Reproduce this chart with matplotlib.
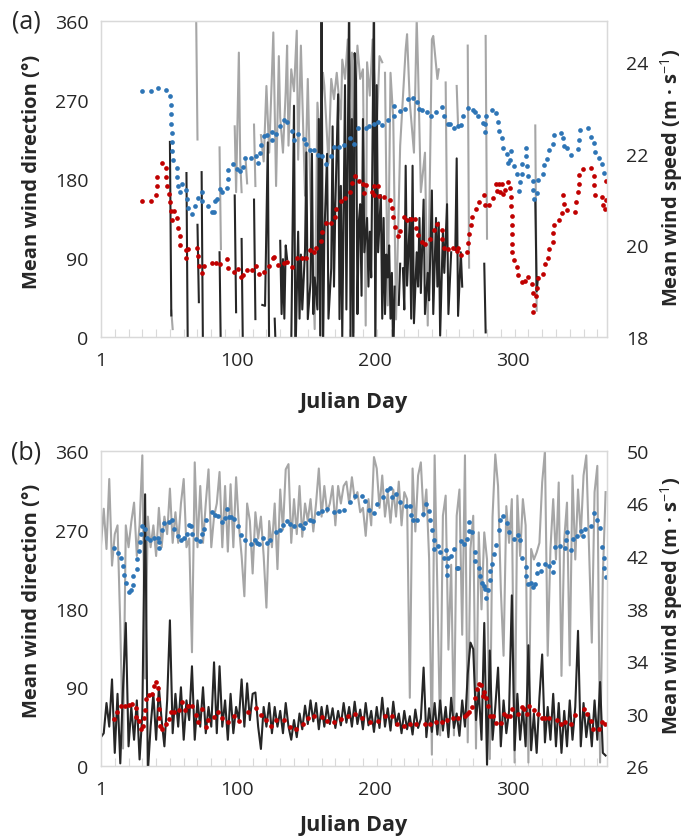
import numpy as np
import matplotlib.pyplot as plt

plt.rcParams['font.family'] = ['Open Sans', 'DejaVu Sans']
plt.rcParams['mathtext.fontset'] = 'custom'
plt.rcParams['mathtext.rm'] = 'Open Sans'
plt.rcParams['mathtext.bf'] = 'Open Sans:bold'

nan = np.nan

# ---------------- panel (a) ----------------
# daily wind direction (deg), gaps = missing days
a_gray_day = [52, 53, 54, 70, 71, 72, 87, 88, 89, 98, 99, 101, 102, 103, 104, 106, 107, 108,
              112, 113, 114, 117, 119, 121, 123, 125, 126, 128, 130, 131, 133, 135, 136, 137,
              139, 141, 143, 144, 146, 149, 151, 153, 156, 158, 160, 162, 163, 166, 168, 170,
              172, 175, 176, 178, 180, 181, 183, 184, 185, 187, 189, 191, 193, 194, 196, 198,
              201, 203, 205, 206, 207, 209, 211, 213, 215, 218, 222, 223, 225, 228, 230, 231,
              233, 236, 238, 241, 242, 245, 246, 247, 251, 252, 253, 259, 260, 261, 267, 268,
              269, 280, 281, 282, 316, 317, 318]
a_gray_dir = [30, 9, nan, 370, 225, nan, 216, 100, nan, 240, 165, 324, 200, 165, nan, 200, 175, nan,
              242, 172, nan, 230, 200, 286, 210, 300, 347, 172, 320, 250, 210, 280, 332, 218,
              305, 280, 349, 202, 332, 161, 294, 157, 9, 267, 218, 301, 286, 198, 294, 271,
              301, 248, 316, 294, 339, 271, 324, 5, 250, 332, 294, 305, 13, 313, 275, 339,
              237, 320, 313, nan, 301, 36, 301, 248, 20, 218, 328, 345, 267, 210, 362, 305,
              165, 210, 13, 339, 343, 294, 305, nan, 290, 130, nan, 286, 240, nan, 332, 79,
              nan, 343, 112, nan, 241, 30, nan]

# daily wind speed (m/s)
a_black_day = [51, 52, 53, 63, 64, 65, 71, 72, 73, 74, 75, 76, 87, 88, 89, 98, 99, 100,
               103, 104, 105, 112, 113, 114, 118, 120, 122, 123, 125, 127, 128, 129,
               131, 132, 133, 134, 135, 136, 137, 139, 141, 142, 144, 145, 146, 147, 149, 150,
               151, 153, 154, 155, 156, 158, 159, 160, 161, 162, 163, 165, 166, 168, 169, 170,
               171, 173, 174, 175, 176, 178, 179, 181, 182, 183, 184, 185, 186, 187, 188, 189,
               190, 191, 192, 194, 195, 196, 197, 199, 200, 201, 202, 204, 205, 206, 207, 208,
               209, 210, 211, 212, 213, 214, 215, 217, 218, 219, 220, 221, 222, 223, 225, 226,
               227, 228, 230, 231, 232, 233, 235, 236, 238, 239, 241, 242, 244, 245, 246, 247,
               249, 250, 252, 253, 255, 256, 258, 259, 260, 262, 263, 264, 279, 280, 281,
               316, 317, 318, 319]
a_black_spd = [22.26, 18.47, nan, 21.58, 17.5, nan, 20.45, 18.76, nan, 21.6, 17.5, nan, 19.85, 17.5, nan,
               21.09, 18.54, nan, 20.14, 17.5, nan, 21.0, 18.39, nan, 18.7, 18.68, 22.25, 17.5, nan,
               18.4, 17.5, nan, 20.1, 18.5, 19.7, 18.4, 20.0, 19.7, nan, 17.8, 23.05, 17.5, 20.3,
               18.4, 19.8, 18.6, 19.9, 22.03, 18.39, 19.2, 22.0, 18.5, 19.3, 18.6, 22.76, 18.03,
               25.5, 17.5, 20.2, 22.0, 18.4, 19.5, 22.6, 19.1, 20.9, 23.3, 18.39, 21.3, 18.0, 23.5,
               18.6, 25.5, 18.0, 22.76, 17.5, 24.2, 23.6, 18.5, 20.5, 20.9, 18.9, 22.76, 19.85,
               20.6, 19.1, 20.3, 19.3, 25.5, 17.5, 23.5, 19.85, 21.1, 18.4, 20.6, 18.5, 19.8,
               19.3, 20.0, 18.4, 19.4, 17.5, 19.1, nan, 18.7, 19.6, nan, 19.5, 18.6, 21.74, 19.12,
               20.6, 18.4, 21.74, 18.3, 19.85, 19.1, 20.6, 18.96, 21.0, 18.5, 19.4, 18.8, 21.2,
               18.5, 20.6, 19.1, 20.5, 18.03, 20.3, 19.4, 20.9, 18.5, 19.85, nan, 19.9, 21.9,
               18.46, 19.85, 19.1, nan, 19.6, 18.1, nan, 21.0, 19.0, 19.3, nan]

# moving average of direction (blue dots)
a_blue_day = [30.6, 37.4, 42.5, 48.3, 51.2, 51.7, 51.7, 51.9, 52.2, 52.2, 52.7, 53.2, 56.1, 56.1,
              56.6, 59.5, 58.0, 62.4, 63.3, 63.8, 66.7, 69.2, 71.1, 74.5, 74.5, 78.4, 81.3, 82.8,
              83.7, 85.2, 87.1, 89.1, 92.5, 93.4, 93.4,
              96.6, 99.5, 101.9, 104.3, 105.3, 109.7, 113.1, 115.0, 116.0, 117.0, 118.9, 121.3,
              124.7, 125.2, 127.6, 130.5, 133.5, 135.9, 139.3, 140.7, 143.7, 148.0, 149.5, 152.9,
              155.3, 158.2, 161.6, 164.5, 168.0, 169.9, 173.7, 177.1, 181.5, 184.4,
              187.5, 193.4, 195.3, 199.2, 201.6, 205.0, 209.4, 213.3, 213.3, 217.6, 221.5, 223.4,
              227.3, 230.2, 231.7, 234.1, 237.5, 240.4, 244.3, 248.2, 249.6, 252.6, 254.5, 257.4,
              259.8, 261.8, 263.7, 267.1, 270.5, 272.4, 274.4,
              278.1, 280.0, 279.5, 279.5, 284.4, 287.8, 288.7, 289.7, 292.1, 292.6, 295.5, 298.4,
              296.5, 298.0, 300.4, 302.8, 304.7, 304.3, 306.2, 306.7, 309.1, 309.1, 310.1, 310.6,
              314.0, 314.4, 315.4, 317.4, 318.3, 321.7, 322.2, 324.6, 325.6, 329.0, 329.5, 334.8,
              335.8, 336.8, 339.2, 342.1, 347.0, 347.4, 348.4, 354.2, 356.2, 358.6, 359.6, 362.5,
              364.4, 365.9]
a_blue_dir = [279.8, 279.8, 283.6, 281.7, 274.9, 264.2, 253.6, 243.0, 232.3, 222.5, 211.8, 201.2,
              192.9, 182.2, 172.3, 174.6, 165.5, 167.8, 157.2, 146.5, 140.5, 149.6, 158.7, 165.5,
              154.9, 149.6, 142.8, 142.8, 154.9, 157.2, 168.6, 164.8, 169.3, 180.0, 190.6,
              196.6, 191.3, 189.0, 193.6, 203.5, 203.5, 205.8, 198.2, 209.6, 218.7, 228.6, 230.1,
              224.0, 233.9, 231.6, 240.7, 247.5, 245.3, 234.6, 224.7, 230.8, 225.5, 219.4, 212.6,
              212.6, 207.3, 205.8, 196.6, 206.5, 216.4, 216.4, 218.7, 227.0, 219.4,
              238.4, 237.7, 240.7, 242.2, 244.5, 241.5, 247.5, 252.1, 262.7, 257.4, 259.7, 271.1,
              272.6, 268.0, 259.7, 258.2, 255.9, 251.3, 255.9, 262.0, 251.3, 243.0, 242.2, 238.4,
              239.9, 241.5, 252.1, 260.4, 258.9, 255.9, 251.3,
              243.7, 252.1, 242.2, 233.9, 258.9, 255.1, 245.3, 234.6, 226.3, 215.6, 208.8, 211.8,
              198.2, 202.0, 194.4, 186.0, 176.2, 166.3, 186.0, 196.6, 205.8, 215.6, 195.1, 183.7,
              177.7, 167.0, 157.2, 164.0, 178.4, 185.3, 195.9, 202.7, 213.4, 219.4, 230.1, 232.3,
              226.3, 218.0, 214.9, 207.3, 214.1, 224.7, 235.4, 237.7, 227.8, 221.0, 210.3, 204.2,
              197.4, 186.8]

# moving average of speed (red dots)
a_red_day = [30.6, 37.4, 41.0, 44.9, 41.5, 41.5, 47.8, 48.3, 48.8, 50.2, 51.2, 51.7, 54.1, 52.2,
             56.1, 56.6, 58.0, 58.5, 62.4, 64.3, 62.9, 70.6, 71.1, 72.1, 74.0, 76.0, 81.8, 84.7,
             87.1, 92.5, 93.4,
             97.6, 100.5, 102.4, 104.3, 106.8, 110.2, 113.1, 115.5, 118.9, 122.8, 125.7, 126.7,
             129.6, 133.5, 135.9, 139.8, 143.2, 146.6, 149.5, 152.4, 155.3, 157.2, 160.6, 161.1,
             164.0, 168.0, 170.8, 171.8, 175.2, 178.1, 181.5, 183.0, 185.4,
             188.0, 191.4, 192.9, 191.9, 197.7, 199.2, 201.6, 198.7, 203.0, 206.5, 210.3, 211.8,
             212.8, 214.2, 216.2, 218.1, 221.0, 223.0, 225.9, 228.8, 229.8, 230.7, 233.6, 236.1,
             239.4, 242.4, 244.8, 248.2, 248.7, 250.1, 253.0, 256.0, 258.9, 259.8, 261.8, 266.6,
             267.1, 267.6, 269.1, 270.0, 273.0, 275.4,
             278.5, 279.5, 282.4, 285.3, 288.2, 287.3, 289.7, 291.6, 290.7, 292.6, 294.1, 296.0,
             298.0, 298.4, 298.4, 298.9, 298.9, 298.9, 298.9, 299.4, 300.4, 302.8, 303.8, 306.2,
             308.6, 311.0, 313.5, 314.0, 314.9, 314.4, 316.4, 317.4, 317.8, 321.7, 322.7, 325.1,
             325.6, 328.5, 329.0, 329.5, 332.9, 335.3, 336.8, 336.3, 339.2, 344.5, 345.5, 347.0,
             347.4, 347.9, 350.8, 356.7, 358.6, 358.6, 359.6, 364.4, 365.4, 367.3, 367.3, 366.9]
a_red_spd = [20.98, 20.98, 21.09, 21.81, 21.49, 21.29, 21.70, 21.49, 21.29, 21.13, 20.95, 20.75,
             20.75, 20.55, 20.59, 20.39, 20.21, 20.01, 19.91, 19.92, 19.73, 19.94, 19.76, 19.56,
             19.40, 19.56, 19.62, 19.62, 19.59, 19.70, 19.51,
             19.41, 19.48, 19.32, 19.35, 19.47, 19.47, 19.54, 19.37, 19.41, 19.54, 19.72, 19.75,
             19.57, 19.62, 19.64, 19.53, 19.72, 19.73, 19.73, 19.91, 19.85, 19.94, 20.10, 20.29,
             20.48, 20.49, 20.61, 20.79, 20.97, 21.04, 21.16, 21.36, 21.51,
             21.41, 21.33, 21.32, 21.14, 21.17, 21.29, 21.29, 21.09, 21.07, 21.06, 21.00, 20.81,
             20.61, 20.40, 20.20, 20.31, 20.63, 20.55, 20.58, 20.58, 20.39, 20.23, 20.08, 20.02,
             20.14, 20.33, 20.46, 20.34, 20.14, 19.94, 19.92, 19.94, 19.88, 19.94, 19.80, 19.86,
             20.05, 20.24, 20.44, 20.62, 20.79, 20.95,
             21.09, 20.88, 20.88, 21.03, 21.19, 21.33, 21.35, 21.33, 21.16, 21.12, 21.20, 21.38,
             21.26, 21.06, 20.85, 20.65, 20.45, 20.24, 20.04, 19.85, 19.69, 19.53, 19.35, 19.21,
             19.22, 19.30, 19.15, 18.96, 18.70, 18.54, 18.89, 19.08, 19.28, 19.38, 19.59, 19.73,
             19.92, 20.07, 20.27, 20.45, 20.55, 20.71, 20.91, 21.11, 20.77, 20.74, 20.94, 21.16,
             21.33, 21.54, 21.67, 21.70, 21.52, 21.32, 21.11, 21.06, 20.88, 21.00, 21.41, 20.79]

# ---------------- panel (b) ----------------
b_day = list(range(1, 368, 2))
b_gray_dir = [252, 294, 248, 328, 229, 265, 275, 160, 20, 275,
              250, 279, 301, 240, 275, 355, 100, 285, 250, 275,
              240, 295, 250, 285, 265, 317, 255, 290, 255, 300,
              328, 250, 260, 130, 347, 250, 320, 255, 300, 339,
              250, 285, 300, 336, 250, 320, 245, 322, 250, 330,
              275, 240, 194, 300, 280, 220, 290, 260, 285, 240,
              181, 280, 250, 300, 225, 316, 270, 339, 345, 255,
              305, 265, 320, 262, 300, 280, 305, 268, 300, 340,
              285, 320, 290, 300, 320, 275, 320, 300, 320, 325,
              300, 330, 305, 313, 290, 295, 263, 305, 275, 353,
              340, 295, 332, 285, 312, 278, 316, 285, 325, 275,
              313, 305, 78, 340, 268, 332, 347, 285, 316, 237,
              13, 355, 200, 35, 286, 309, 133, 230, 35, 286,
              316, 150, 355, 27, 248, 286, 20, 267, 179, 267,
              236, 8, 285, 356, 320, 202, 126, 297, 255, 305,
              4, 309, 240, 305, 275, 4, 248, 236, 244, 255,
              324, 360, 126, 248, 305, 236, 324, 103, 259, 301,
              115, 332, 236, 316, 263, 332, 355, 250, 141, 313,
              343, 4, 217, 313]
b_black_spd = [28.2, 28.5, 30.8, 29.0, 32.6, 27.0, 31.5, 26.2, 32.0, 36.9,
               27.5, 30.5, 28.0, 31.0, 26.5, 30.0, 46.7, 25.5, 29.0, 31.5,
               28.0, 32.0, 29.5, 27.5, 31.0, 37.1, 28.5, 31.5, 29.0, 32.0,
               28.0, 31.0, 29.5, 33.6, 28.0, 31.0, 29.0, 32.0, 28.5, 30.5,
               29.0, 33.9, 28.5, 33.6, 29.0, 31.0, 28.0, 31.5, 28.5, 30.5,
               29.5, 32.6, 29.0, 32.3, 29.5, 31.5, 31.6, 29.0, 27.3, 30.5,
               29.0, 30.8, 28.5, 30.5, 29.0, 30.2, 28.5, 30.8, 29.0, 28.0,
               29.5, 28.2, 30.0, 28.8, 30.6, 29.2, 31.0, 29.4, 30.8, 28.8,
               30.5, 29.0, 30.6, 29.2, 30.4, 28.9, 30.2, 29.1, 30.8, 29.3,
               30.5, 29.0, 30.9, 29.2, 30.3, 28.8, 30.8, 29.1, 30.2, 28.6,
               30.5, 28.9, 31.2, 29.0, 30.4, 28.7, 30.9, 29.1, 30.0, 28.5,
               30.2, 28.8, 29.8, 28.4, 30.3, 28.9, 29.6, 33.5, 28.2, 30.4,
               28.6, 30.8, 28.4, 31.0, 28.7, 30.5, 28.2, 31.2, 28.9, 30.0,
               28.3, 31.0, 29.0, 33.0, 35.4, 34.9, 29.5, 31.8, 28.0, 36.9,
               26.1, 34.8, 28.0, 30.5, 33.5, 27.5, 31.0, 28.5, 30.2, 39.0,
               27.2, 31.5, 28.0, 30.5, 27.5, 35.2, 27.2, 30.0, 27.0, 31.2,
               34.5, 27.8, 30.5, 28.0, 31.5, 27.5, 30.8, 27.0, 30.2, 27.5,
               31.0, 28.0, 30.5, 36.3, 27.5, 30.8, 28.2, 30.0, 27.5, 31.0,
               28.0, 32.4, 27.0, 26.8]

b_blue_day = [10.5, 13.4, 15.8, 16.8, 17.7, 19.2, 21.1, 23.1, 24.1, 24.5, 27.0, 27.4, 28.4, 29.4,
              29.9, 30.8, 32.8, 34.2, 36.7, 39.6, 42.0, 43.0, 43.0, 44.9, 46.4, 50.2, 52.2, 54.1,
              56.6, 59.0, 60.9, 63.4, 64.8, 66.3, 67.2, 70.1, 73.1, 74.5, 75.5, 77.4, 81.3, 83.7,
              85.7, 88.6, 91.0, 94.0,
              92.2, 95.6, 97.6, 100.5, 102.9, 105.3, 109.7, 112.6, 114.5, 115.5, 118.4, 121.3,
              123.8, 127.6, 131.0, 133.0, 135.9, 137.8, 141.2, 145.1, 147.5, 149.0, 152.4, 154.8,
              158.2, 161.6, 165.0, 170.3, 173.7, 177.6, 181.5, 184.9,
              190.4, 192.4, 195.3, 199.2, 201.1, 205.5, 208.4, 210.8, 211.8, 214.7, 218.1, 222.0,
              225.4, 225.9, 227.3, 230.2, 234.6, 237.0, 239.0, 239.9, 240.9, 242.4, 242.4, 245.3,
              246.7, 249.6, 251.1, 252.6, 252.1, 252.1, 255.0, 257.4, 258.9, 260.3, 262.3, 264.2,
              266.6, 267.6, 267.6, 270.0, 272.0, 272.4, 274.9, 275.8,
              277.1, 278.5, 279.5, 280.5, 281.9, 282.9, 282.9, 284.8, 286.3, 287.3, 289.7, 290.2,
              292.6, 295.5, 297.0, 300.4, 303.8, 305.2, 306.7, 309.1, 309.6, 310.6, 313.0, 314.4,
              315.9, 316.9, 317.8, 319.8, 322.7, 325.6, 328.5, 328.5, 330.5, 333.9, 337.7, 339.2,
              338.2, 341.6, 343.1, 346.0, 349.4, 350.8, 352.3, 356.7, 358.6, 361.0, 363.0, 364.4,
              365.9, 365.9, 367.3]
b_blue_dir = [249.5, 243.4, 238.1, 228.2, 218.3, 209.1, 198.5, 200.8, 206.9, 216.8, 225.1, 236.6,
              245.7, 255.6, 264.8, 273.9, 270.9, 260.2, 258.7, 260.2, 260.2, 248.8, 255.6, 269.3,
              277.7, 279.2, 280.8, 270.9, 262.5, 258.7, 260.2, 265.5, 275.4, 274.7, 264.8, 259.4,
              257.1, 264.8, 270.9, 281.5, 289.9, 286.9, 286.1, 278.5, 283.8, 284.6,
              293.7, 284.6, 282.3, 273.9, 264.0, 258.7, 254.1, 258.7, 254.9, 253.3, 261.0, 254.9,
              258.7, 267.0, 270.1, 275.4, 280.0, 276.2, 274.7, 275.4, 272.4, 277.7, 281.5, 280.0,
              289.1, 291.4, 293.7, 290.7, 291.4, 293.0, 301.3, 309.0,
              308.2, 302.9, 293.0, 289.1, 299.1, 307.4, 315.1, 317.3, 307.4, 310.5, 302.1, 296.8,
              296.8, 286.9, 281.5, 280.8, 288.4, 299.1, 291.4, 280.8, 269.3, 258.7, 248.0, 251.8,
              244.2, 238.1, 247.2, 238.1, 228.2, 218.3, 239.6, 248.0, 226.7, 225.9, 257.1, 253.3,
              259.4, 268.6, 279.2, 267.0, 244.2, 234.3, 225.9, 216.8,
              209.1, 206.1, 202.3, 192.4, 200.8, 212.2, 222.9, 230.5, 241.9, 252.6, 269.3, 280.8,
              286.1, 277.7, 267.0, 259.4, 264.0, 257.9, 237.3, 227.5, 216.8, 208.4, 209.1, 204.6,
              208.4, 220.6, 230.5, 222.9, 231.2, 228.2, 232.8, 221.3, 250.3, 251.8, 249.5, 267.8,
              257.9, 246.5, 259.4, 262.5, 268.6, 262.5, 270.9, 273.9, 289.1, 281.5, 271.6, 250.3,
              237.3, 226.7, 216.0]

b_red_day = [10.5, 12.9, 15.3, 18.2, 21.6, 23.6, 26.5, 26.5, 28.9, 29.9, 31.3, 32.3, 32.8, 33.8,
             35.7, 38.1, 39.1, 41.0, 42.0, 42.5, 43.0, 43.0, 43.5, 45.4, 48.3, 50.2, 51.7, 54.1,
             57.5, 59.5, 61.9, 64.3, 66.7, 69.7, 71.6, 74.0, 76.9, 78.9, 82.8, 85.7, 89.1, 93.4,
             97.6, 101.0, 107.8, 113.6, 117.0, 120.4, 124.2, 127.6, 134.0, 137.8, 142.7, 147.5,
             151.4, 155.3, 161.6, 165.0, 170.3, 175.2, 180.0, 184.9,
             190.4, 196.3, 201.6, 206.9, 211.8, 215.7, 220.5, 224.9, 229.7, 236.1, 239.5, 243.8,
             248.7, 252.1, 256.4, 260.3, 264.7, 266.6, 268.1, 270.0, 272.0, 273.9, 274.9,
             276.6, 278.5, 280.0, 278.1, 281.9, 283.4, 285.3, 287.8, 291.2, 293.1, 295.5, 298.0,
             299.4, 303.8, 306.7, 307.6, 310.1, 311.5, 314.9, 318.3, 320.7, 323.2, 326.1, 331.4,
             334.3, 337.7, 342.1, 345.0, 351.3, 353.7, 356.7, 358.1, 362.0, 364.4, 366.9]
b_red_spd = [29.58, 30.08, 30.59, 30.59, 30.64, 30.74, 30.39, 29.73, 29.42, 28.81, 29.07, 29.63,
             30.29, 31.10, 31.41, 31.46, 32.12, 32.42, 31.91, 31.10, 30.34, 29.68, 29.02, 28.81,
             29.22, 29.58, 30.08, 30.13, 30.24, 30.85, 30.24, 30.59, 30.59, 29.88, 29.37, 30.34,
             28.97, 29.52, 29.73, 30.08, 29.63, 29.37,
             29.83, 29.42, 30.13, 30.39, 29.88, 29.48, 29.07, 29.48, 29.53, 28.97, 28.81, 29.17,
             29.63, 29.78, 29.73, 29.42, 29.37, 29.58, 29.78, 29.93,
             29.68, 29.37, 29.42, 29.78, 29.78, 29.17, 29.07, 29.17, 29.22, 29.22, 29.22, 29.32,
             29.32, 29.53, 29.63, 29.68, 29.78, 29.93, 30.08, 30.49, 31.15, 31.86, 32.22,
             32.17, 31.61, 31.20, 31.35, 30.54, 29.83, 29.83, 29.27, 29.27, 29.93, 29.83, 29.83,
             30.34, 29.93, 30.49, 30.34, 29.93, 30.54, 30.24, 29.93, 29.68, 29.68, 29.68, 29.53,
             29.22, 29.32, 29.22, 29.88, 30.34, 29.93, 29.42, 28.81, 28.81, 29.32, 29.22]

GRAY = '#A6A6A6'
BLACK = '#262626'
BLUE = '#2E75B6'
RED = '#C00000'
FRAME = '#D9D9D9'


def draw_panel(ax, gd, gv, kd, kv, bd, bv, rd, rv, ylim2, yticks2):
    ax2 = ax.twinx()
    ax.plot(gd, gv, color=GRAY, lw=1.5)
    ax2.plot(kd, kv, color=BLACK, lw=1.5)
    # blue dots belong to the left axis but are drawn above the black line
    ax2.plot(bd, bv, 'o', ms=3.4, mew=0, color=BLUE, transform=ax.transData)
    ax2.plot(rd, rv, 'o', ms=3.4, mew=0, color=RED)

    ax.set_xlim(1, 368)
    ax.set_ylim(0, 360)
    ax2.set_ylim(*ylim2)
    ax.set_yticks([0, 90, 180, 270, 360])
    ax2.set_yticks(yticks2)
    ax.set_xticks([1, 100, 200, 300])
    ax.set_xticks(np.arange(11, 368, 10), minor=True)
    ax.tick_params(axis='x', which='major', length=0, pad=10, labelsize=14, labelcolor=BLACK)
    ax.tick_params(axis='x', which='minor', direction='in', length=6, width=0.8, color=FRAME)
    ax.tick_params(axis='y', length=0, pad=9, labelsize=14, labelcolor=BLACK)
    ax2.tick_params(axis='y', length=0, pad=14, labelsize=14, labelcolor=BLACK)
    for a in (ax, ax2):
        for s in a.spines.values():
            s.set_color(FRAME)
            s.set_linewidth(0.9)
    return ax2


fig = plt.figure(figsize=(6.86, 8.37), dpi=100)
ax_a = fig.add_axes([0.1472, 0.5962, 0.7376, 0.3775])
ax_b = fig.add_axes([0.1472, 0.0836, 0.7376, 0.3764])

draw_panel(ax_a, a_gray_day, a_gray_dir, a_black_day, a_black_spd,
           a_blue_day, a_blue_dir, a_red_day, a_red_spd, (18, 24.9), [18, 20, 22, 24])
draw_panel(ax_b, b_day, b_gray_dir, b_day, b_black_spd,
           b_blue_day, b_blue_dir, b_red_day, b_red_spd, (26, 50), [26, 30, 34, 38, 42, 46, 50])

lab = dict(fontsize=14.5, fontweight='bold', color=BLACK, ha='center', va='center')
fig.text(0.038, 0.974, '(a)', fontsize=18, color=BLACK, ha='center', va='center')
fig.text(0.038, 0.459, '(b)', fontsize=18, color=BLACK, ha='center', va='center')
fig.text(0.516, 0.519, 'Julian Day', fontsize=15.5, fontweight='bold', color=BLACK,
         ha='center', va='center')
fig.text(0.516, 0.014, 'Julian Day', fontsize=15.5, fontweight='bold', color=BLACK,
         ha='center', va='center')
fig.text(0.0466, 0.795, 'Mean wind direction (°)', rotation=90, **lab)
fig.text(0.0466, 0.282, 'Mean wind direction (°)', rotation=90, **lab)
fig.text(0.979, 0.788, r'Mean wind speed (m · s$^{-1}$)', rotation=90, **lab)
fig.text(0.979, 0.276, r'Mean wind speed (m · s$^{-1}$)', rotation=90, **lab)

fig.savefig('out.png', dpi=100)
